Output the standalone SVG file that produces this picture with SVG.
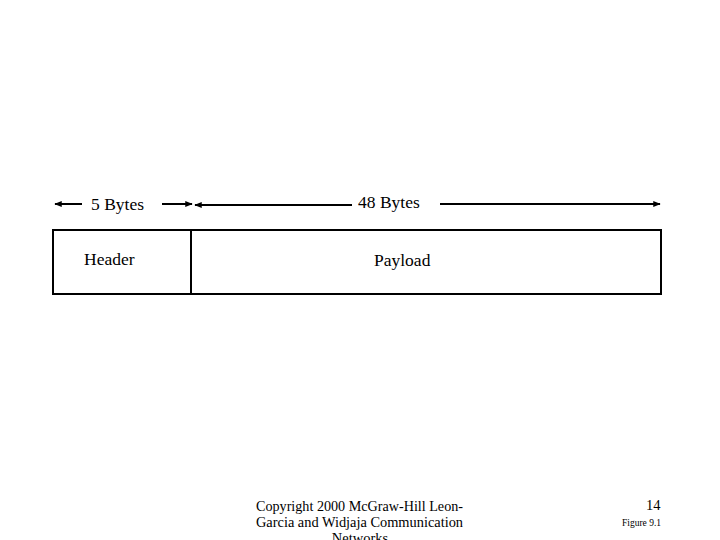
<svg xmlns="http://www.w3.org/2000/svg" width="720" height="540" viewBox="0 0 720 540">
<defs>
<style>
text{font-family:"Liberation Serif","Times New Roman",serif;fill:#000}
.lbl{font-size:17.5px}
.foot{font-size:14.5px}
.ln{stroke:#000;stroke-width:2;fill:none}
</style>
<marker id="ah" viewBox="0 0 10 8" refX="9" refY="4" markerWidth="8" markerHeight="6" markerUnits="userSpaceOnUse" orient="auto">
<path d="M0,0 L10,4 L0,8 z" fill="#000"/>
</marker>
</defs>
<rect width="720" height="540" fill="#fff"/>
<g id="connectors">
<line class="ln" x1="82" y1="204" x2="55" y2="204" marker-end="url(#ah)"/>
<line class="ln" x1="162" y1="204" x2="192" y2="204" marker-end="url(#ah)"/>
<line class="ln" x1="352" y1="205" x2="195" y2="205" marker-end="url(#ah)"/>
<line class="ln" x1="440" y1="204" x2="660" y2="204" marker-end="url(#ah)"/>
</g>
<g id="label-5bytes"><text class="lbl" x="91" y="210">5 Bytes</text></g>
<g id="label-48bytes"><text class="lbl" x="358" y="208">48 Bytes</text></g>
<g id="header">
<rect class="ln" x="53" y="230" width="138" height="64"/>
<text class="lbl" x="84" y="265">Header</text>
</g>
<g id="payload">
<rect class="ln" x="191" y="230" width="470" height="64"/>
<text class="lbl" x="374" y="266">Payload</text>
</g>
<g id="footer">
<text class="foot" x="256" y="511" textLength="207" lengthAdjust="spacingAndGlyphs">Copyright 2000 McGraw-Hill  Leon-</text>
<text class="foot" x="256" y="527" textLength="207" lengthAdjust="spacingAndGlyphs">Garcia and Widjaja  Communication</text>
<text class="foot" x="360" y="543" text-anchor="middle">Networks</text>
<text class="foot" x="646" y="510">14</text>
<text x="622" y="526" style="font-size:9.5px">Figure 9.1</text>
</g>
</svg>
